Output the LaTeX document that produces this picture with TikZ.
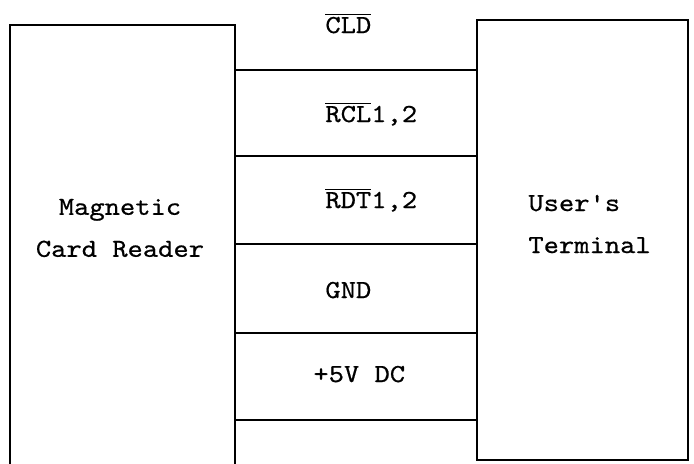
\documentclass[tikz,border=0pt]{standalone}
\usepackage{fontspec}
\setmonofont{lmmono10-regular.otf}[FakeStretch=1.12,FakeBold=0.6]
\newcommand{\unitfont}{\ttfamily\fontsize{13}{21}\selectfont}
\begin{document}
\begin{tikzpicture}[x=0.5pt,y=-0.5pt]

	\tikzset{
	  unit/.style={
		draw,
		line width=0.6pt,
		inner sep=0pt,
	  },
	  unitname/.style={
		inner sep=0pt,
		align=left,
		font=\unitfont,
	  },
	  wire/.style={line width=0.6pt},
	  signal/.style={inner sep=0pt, anchor=base west, font=\unitfont},
	}
	\clip (0,0) rectangle (694,463);
	% the two units
	\node[unit, minimum width=112.5pt, minimum height=240pt] (reader) at (122.5,265) {};
	\node[unit, minimum width=105.5pt, minimum height=220pt] (terminal) at (582.5,240) {};
	\node[unitname, align=center] (readername) at (120,228) {Magnetic\\Card Reader};
	\node[unitname, anchor=west] (terminalname) at (528,224) {User's\\Terminal};
	% lines between them
	\foreach \h in {70,156,244,333,420}
		\draw[wire] (reader.east |- 0,\h) -- (terminal.west |- 0,\h);
	\node[signal] (cld) at (325,33) {$\overline{\hbox{CLD}}$};
	\node[signal] (rcl) at (325,122) {$\overline{\hbox{RCL}}$1,2};
	\node[signal] (rdt) at (325,208) {$\overline{\hbox{RDT}}$1,2};
	\node[signal] (gnd) at (325,298) {GND};
	\node[signal] (pwr) at (313,382) {+5V DC};

\end{tikzpicture}
\end{document}
